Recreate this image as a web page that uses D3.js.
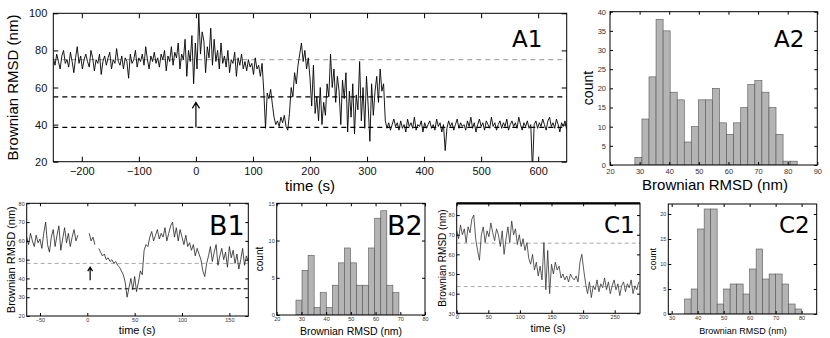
<!DOCTYPE html>
<html>
<head>
<meta charset="utf-8">
<script src="https://cdn.jsdelivr.net/npm/d3@7"></script>
<style>
body { margin:0; background:#fff; }
svg { display:block; font-family:"Liberation Sans", Arial, sans-serif; }
</style>
</head>
<body>
<script>
// ---- A1: Brownian RMSD trace, sampled every 3 s from -250 s
var a1Start = -250, a1Step = 3;
var a1Values = [
  76,72,78,74,70,77,80,73,75,71,79,74,68,76,82,73,77,70,75,78,
  74,71,80,76,69,75,73,78,67,74,77,72,76,79,70,75,73,81,74,72,
  77,70,76,74,65,78,73,75,80,71,76,74,78,72,82,75,70,77,74,79,
  73,76,71,78,75,80,69,77,74,82,72,79,76,84,70,78,75,86,66,80,
  74,88,62,84,70,100,78,90,85,68,82,76,92,72,86,74,80,70,84,73,
  77,71,80,68,75,73,79,66,76,72,78,70,74,69,75,71,73,67,76,70,
  72,66,73,58,38,57,54,59,51,44,40,42,39,44,41,45,39,37,46,60,
  55,68,62,72,78,84,74,80,70,76,65,50,72,46,55,42,60,40,52,45,
  62,55,78,60,70,52,66,58,40,64,54,68,36,58,44,62,35,56,48,74,
  42,60,38,66,50,31,62,45,58,66,52,70,58,62,42,38,41,37,40,43,
  39,41,37,42,38,40,36,43,39,41,38,44,37,40,39,42,36,41,38,40,
  42,38,40,37,43,39,41,36,40,26,38,42,39,41,37,40,43,38,41,39,
  40,37,42,39,44,38,41,36,40,43,39,41,37,42,40,38,44,39,41,37,
  40,42,38,41,39,43,37,40,42,39,41,38,44,40,37,41,39,42,38,40,
  15,40,42,38,41,39,43,40,37,42,44,39,41,38,43,40,36,41,39,42,
  37
];
var a1XTicks = [-200,-100,0,100,200,300,400,500,600];
var a1YTicks = [20,40,60,80,100];
var a1GrayLevels = [75];
var a1BlackLevels = [55, 38.5];
var a1Arrow = [0, 38.5, 52];   // time, from, to

// ---- A2: histogram
var a2Start = 28.4, a2Width = 2.383;
var a2Counts = [2,12,23,38,35,19,17,6,10,17,17,20,11,8,11,15,21,22,19,15,8,1,1];
var a2XTicks = [20,30,40,50,60,70,80,90];
var a2YTicks = [0,5,10,15,20,25,30,35,40];

// ---- B1: trace, every 2 s from -64 s (null = no data)
var b1Start = -64, b1Step = 2;
var b1Values = [
  62,58,64,60,57,63,59,61,56,64,70,58,54,62,66,57,63,68,55,61,
  67,59,64,57,62,66,60,63,null,null,null,null,null,
  64,60,62,58,null,56,54,52,53,50,51,49,50,48,49,47,46,44,42,38,
  30,35,40,34,41,33,38,44,42,55,58,57,62,65,60,63,66,61,64,62,
  67,60,64,68,70,62,67,60,66,62,58,63,57,59,55,58,52,56,53,50,
  44,41,48,52,57,49,54,58,47,52,56,50,54,46,57,51,55,48,53,45,
  50,56,47,52,49
];
var b1XTicks = [-50,0,50,100,150];
var b1YTicks = [20,30,40,50,60,70,80];
var b1GrayLevels = [48];
var b1BlackLevels = [34.5];
var b1Arrow = [3, 39, 46];

// ---- B2: histogram
var b2Start = 27.8, b2Width = 2.45;
var b2Counts = [2,6,8,1,3,1,4,7,9,7,4,4,9,13,14,4,3];
var b2XTicks = [20,30,40,50,60,70,80];
var b2YTicks = [0,5,10,15];

// ---- C1: trace, every 3 s from 0 s
var c1Start = 0, c1Step = 3;
var c1Values = [
  72,68,75,70,73,66,74,71,78,80,68,62,57,70,74,66,72,69,76,71,
  67,73,70,64,72,60,68,74,66,77,70,73,65,70,
  64,68,62,66,58,55,60,52,56,49,54,47,66,42,62,40,55,50,56,52,
  54,48,50,47,49,46,50,48,47,49,46,56,60,52,
  45,40,46,38,44,42,47,41,45,43,48,42,46,40,44,47,42,45,39,44,
  46,41,45,43,47,40,44,42,46
];
var c1XTicks = [0,50,100,150,200,250];
var c1YTicks = [30,40,50,60,70,80];
var c1GrayLevels = [65.7, 43.6];

// ---- C2: histogram
var c2Start = 35, c2Width = 2.5;
var c2Counts = [3,5,17,21,21,2,5,6,6,4,9,13,7,8,8,6,2,1];
var c2XTicks = [30,40,50,60,70,80];
var c2YTicks = [0,5,10,15,20];

var svg = d3.select('body').append('svg')
            .attr('width', 830)
            .attr('height', 338);

var clipCount = 0;

function makePanel(box, xDomain, yDomain) {
  var w = box[2] - box[0], h = box[3] - box[1];
  var g = svg.append('g').attr('transform', 'translate(' + box[0] + ',' + box[1] + ')');
  var id = 'clip' + (clipCount++);
  g.append('clipPath').attr('id', id)
   .append('rect').attr('width', w).attr('height', h);
  var x = d3.scaleLinear().domain(xDomain).range([0, w]);
  var y = d3.scaleLinear().domain(yDomain).range([h, 0]);
  var plot = g.append('g').attr('clip-path', 'url(#' + id + ')');
  return {g: g, plot: plot, x: x, y: y, w: w, h: h};
}

function styleAxis(sel, fs, color) {
  sel.attr('font-family', null).attr('font-size', fs);
  sel.select('.domain').remove();
  sel.selectAll('line').attr('stroke', '#000');
  sel.selectAll('text').attr('fill', color);
}

function drawAxes(p, xTicks, yTicks, fs, tick, pad, color) {
  var g = p.g;
  g.append('g').attr('transform', 'translate(0,' + p.h + ')')
   .call(d3.axisBottom(p.x).tickValues(xTicks).tickSize(-tick).tickPadding(pad).tickFormat(d3.format('d')))
   .call(styleAxis, fs, color);
  g.append('g')
   .call(d3.axisLeft(p.y).tickValues(yTicks).tickSize(-tick).tickPadding(pad).tickFormat(d3.format('d')))
   .call(styleAxis, fs, color);
  g.append('g')
   .call(d3.axisTop(p.x).tickValues(xTicks).tickSize(-tick).tickFormat(''))
   .call(styleAxis, fs, color);
  g.append('g').attr('transform', 'translate(' + p.w + ',0)')
   .call(d3.axisRight(p.y).tickValues(yTicks).tickSize(-tick).tickFormat(''))
   .call(styleAxis, fs, color);
  g.append('rect').attr('width', p.w).attr('height', p.h)
   .attr('fill', 'none').attr('stroke', '#000').attr('stroke-width', 1);
}

function levels(p, vals, color, width, dash) {
  p.plot.selectAll(null).data(vals).enter().append('line')
   .attr('x1', 0).attr('x2', p.w)
   .attr('y1', function(d){ return p.y(d); })
   .attr('y2', function(d){ return p.y(d); })
   .attr('stroke', color).attr('stroke-width', width)
   .attr('stroke-dasharray', dash);
}

function trace(p, start, step, values, color, width) {
  var data = values.map(function(v, i){ return {t: start + i * step, v: v}; });
  var line = d3.line()
               .defined(function(d){ return d.v != null; })
               .x(function(d){ return p.x(d.t); })
               .y(function(d){ return p.y(d.v); });
  p.plot.append('path').attr('d', line(data))
   .attr('fill', 'none').attr('stroke', color).attr('stroke-width', width)
   .attr('stroke-linejoin', 'round');
}

function arrow(p, a, head) {
  var px = p.x(a[0]), y1 = p.y(a[1]), y2 = p.y(a[2]);
  p.plot.append('path')
   .attr('d', 'M' + px + ',' + y1 + 'L' + px + ',' + y2 +
              'M' + (px - head * 0.6) + ',' + (y2 + head) + 'L' + px + ',' + y2 + 'L' + (px + head * 0.6) + ',' + (y2 + head))
   .attr('fill', 'none').attr('stroke', '#000').attr('stroke-width', 1.2);
}

function hist(p, start, width, counts) {
  var bins = counts.map(function(n, i){ return {x0: start + i * width, x1: start + (i + 1) * width, n: n}; });
  p.plot.selectAll(null).data(bins).enter().append('rect')
   .attr('x', function(d){ return p.x(d.x0); })
   .attr('width', function(d){ return p.x(d.x1) - p.x(d.x0); })
   .attr('y', function(d){ return p.y(d.n); })
   .attr('height', function(d){ return p.h - p.y(d.n); })
   .attr('fill', '#b4b4b4').attr('stroke', '#555').attr('stroke-width', 0.6);
}

function label(txt, x, y, fs, rotate, family) {
  var t = svg.append('text').text(txt)
             .attr('font-size', fs).attr('text-anchor', 'middle').attr('fill', '#000');
  if (family) t.attr('font-family', family);
  if (rotate) t.attr('transform', 'translate(' + x + ',' + y + ') rotate(-90)');
  else t.attr('x', x).attr('y', y);
  return t;
}

function panelTag(txt, x, y, fs) {
  svg.append('text').text(txt).attr('x', x).attr('y', y)
     .attr('font-size', fs).attr('font-family', '"DejaVu Sans", sans-serif').attr('fill', '#000');
}

// A1
var pA1 = makePanel([53.3, 13.3, 566.7, 161.7], [-250, 650], [20, 100]);
levels(pA1, a1GrayLevels, '#aaa', 1.2, '5,4');
levels(pA1, a1BlackLevels, '#000', 1.2, '5,4');
trace(pA1, a1Start, a1Step, a1Values, '#000', 0.9);
arrow(pA1, a1Arrow, 6);
drawAxes(pA1, a1XTicks, a1YTicks, 11, 5, 6, '#111');
label('Brownian RMSD (nm)', 18, 87.5, 15, true);
label('time (s)', 310, 191, 15);
panelTag('A1', 512, 47, 23);

// A2
var pA2 = makePanel([610, 11.7, 817.3, 165], [20, 90], [0, 40]);
hist(pA2, a2Start, a2Width, a2Counts);
drawAxes(pA2, a2XTicks, a2YTicks, 7.5, 3, 4, '#333');
label('count', 593, 88, 14, true);
label('Brownian RMSD (nm)', 715, 190, 15);
panelTag('A2', 774, 47, 23);

// B1
var pB1 = makePanel([26.7, 203.3, 248.3, 316], [-64, 170], [20, 80]);
levels(pB1, b1GrayLevels, '#aaa', 1, '4,3');
levels(pB1, b1BlackLevels, '#000', 1, '4,3');
trace(pB1, b1Start, b1Step, b1Values, '#222', 0.8);
arrow(pB1, b1Arrow, 4);
drawAxes(pB1, b1XTicks, b1YTicks, 5.5, 3, 2, '#333');
label('Brownian RMSD (nm)', 15, 259.7, 11, true);
label('time (s)', 137, 334, 11);
panelTag('B1', 209, 235, 27);

// B2
var pB2 = makePanel([276.7, 203.3, 425, 315], [20, 80], [0, 15]);
hist(pB2, b2Start, b2Width, b2Counts);
drawAxes(pB2, b2XTicks, b2YTicks, 5.5, 3, 2, '#333');
label('count', 263, 259, 10, true);
label('Brownian RMSD (nm)', 351, 335, 10.5);
panelTag('B2', 387, 235, 27);

// C1
var pC1 = makePanel([456.7, 203.3, 640, 313.3], [0, 290], [30, 86]);
levels(pC1, c1GrayLevels, '#aaa', 1, '4,3');
trace(pC1, c1Start, c1Step, c1Values, '#333', 0.8);
drawAxes(pC1, c1XTicks, c1YTicks, 5.5, 3, 2, '#333');
pC1.g.append('line').attr('x1', 0).attr('x2', pC1.w).attr('y1', 0).attr('y2', 0)
     .attr('stroke', '#000').attr('stroke-width', 2.2);
label('Brownian RMSD (nm)', 446, 258, 10, true);
label('time (s)', 548, 332, 10.5);
panelTag('C1', 604, 233, 23);

// C2
var pC2 = makePanel([668.3, 204, 816.7, 314], [28.7, 85.8], [0, 22]);
hist(pC2, c2Start, c2Width, c2Counts);
drawAxes(pC2, c2XTicks, c2YTicks, 5.5, 3, 2, '#333');
label('count', 656, 259, 9, true);
label('Brownian RMSD (nm)', 743, 334, 9);
panelTag('C2', 779, 233, 23);
</script>
</body>
</html>
